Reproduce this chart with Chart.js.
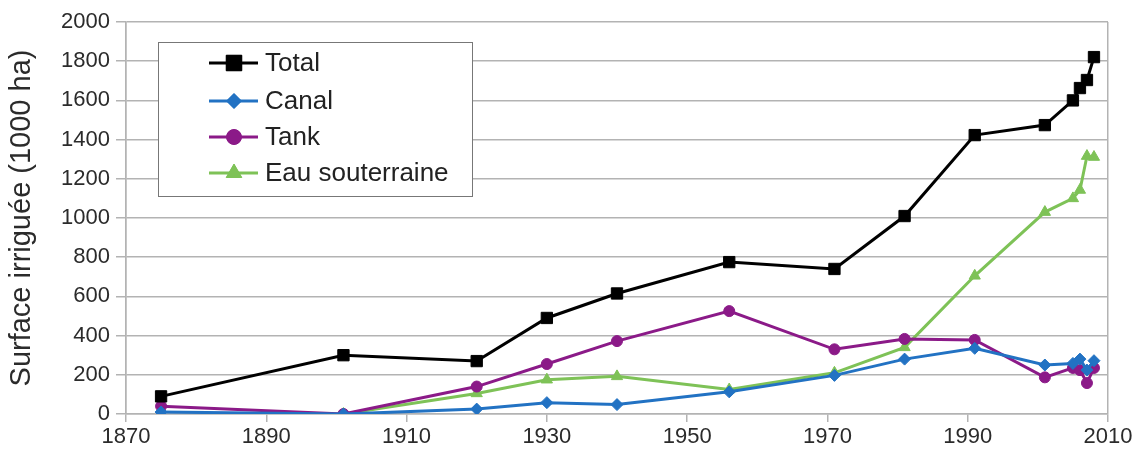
<!DOCTYPE html>
<html>
<head>
<meta charset="utf-8">
<script src="https://cdn.jsdelivr.net/npm/chart.js@4"></script>
<style>
  body { margin: 0; background: #fff; }
  canvas { display: block; }
</style>
</head>
<body>
<canvas id="irrigChart" width="1136" height="454"></canvas>
<script>
// years of each survey
var years = [1875, 1901, 1920, 1930, 1940, 1956, 1971, 1981, 1991, 2001, 2005, 2006, 2007, 2008];

// irrigated area, 1000 ha
var total       = [90, 300, 270, 490, 615, 775, 740, 1010, 1423, 1474, 1600, 1663, 1704, 1821];
var canal       = [10, 0, 25, 58, 48, 113, 197, 280, 335, 250, 258, 280, 224, 272];
var tank        = [40, 0, 140, 255, 372, 525, 330, 383, 378, 187, 235, 224, 158, 235];
var groundwater = [null, 0, 105, 175, 192, 125, 210, 340, 705, 1030, 1100, 1143, 1316, 1311];

var seriesNames = ["Total", "Canal", "Tank", "Eau souterraine"];

function toPoints(values) {
    var pts = [];
    for (var i = 0; i < years.length; i++) {
        if (values[i] !== null) pts.push({ x: years[i], y: values[i] });
    }
    return pts;
}

function makeSet(label, values, color, style, radius, legendRadius) {
    return {
        label: label,
        data: toPoints(values),
        borderColor: color,
        backgroundColor: color,
        borderWidth: 3,
        pointStyle: style,
        pointRadius: radius,
        legendRadius: legendRadius,
        pointBorderWidth: 1,
        pointBorderColor: color,
        pointBackgroundColor: color,
        tension: 0
    };
}

var textColor = "#2b2b2b";
var gridColor = "#b3b3b3";
var fontFamily = "'Liberation Sans', Arial, sans-serif";

// legend drawn inside the plot, top-left
var boxLegend = {
    id: "boxLegend",
    afterDraw: function(chart) {
        var ctx = chart.ctx;
        var left = 158, top = 42, w = 314, h = 154;
        ctx.save();
        ctx.fillStyle = "#ffffff";
        ctx.fillRect(left, top, w, h);
        ctx.strokeStyle = "#777777";
        ctx.lineWidth = 1;
        ctx.strokeRect(left + 0.5, top + 0.5, w, h);
        var rows = [63, 101, 137, 173];
        chart.data.datasets.forEach(function(ds, i) {
            var y = rows[i];
            ctx.strokeStyle = ds.borderColor;
            ctx.lineWidth = 3;
            ctx.beginPath();
            ctx.moveTo(209, y);
            ctx.lineTo(258, y);
            ctx.stroke();
            ctx.fillStyle = ds.borderColor;
            ctx.lineWidth = 1;
            Chart.helpers.drawPoint(ctx, {
                pointStyle: ds.pointStyle,
                radius: ds.legendRadius,
                borderWidth: 1
            }, 234, y);
            ctx.fill();
            ctx.fillStyle = "#222222";
            ctx.font = "26px " + fontFamily;
            ctx.textBaseline = "middle";
            ctx.fillText(ds.label, 265, y + 1);
        });
        ctx.restore();
    }
};

var ctx = document.getElementById("irrigChart").getContext("2d");
var chart = new Chart(ctx, {
    type: "line",
    data: {
        datasets: [
            makeSet(seriesNames[0], total, "#000000", "rect", 8, 11),
            makeSet(seriesNames[1], canal, "#2272c3", "rectRot", 6, 7.5),
            makeSet(seriesNames[2], tank, "#8b1a88", "circle", 5.5, 7.5),
            makeSet(seriesNames[3], groundwater, "#7ec257", "triangle", 6.5, 9)
        ]
    },
    options: {
        responsive: false,
        animation: false,
        layout: { padding: { top: 22, right: 28, left: 0, bottom: 0 } },
        plugins: {
            legend: { display: false },
            tooltip: { enabled: false }
        },
        scales: {
            x: {
                type: "linear",
                min: 1870,
                max: 2010,
                afterFit: function(scale) { scale.height = 40; },
                ticks: {
                    stepSize: 20,
                    color: textColor,
                    padding: 2,
                    maxRotation: 0,
                    font: { size: 22, family: fontFamily },
                    callback: function(v) { return String(v); }
                },
                grid: {
                    color: function(c) {
                        return (c.tick && (c.tick.value === 1870 || c.tick.value === 2010)) ? gridColor : "rgba(0,0,0,0)";
                    },
                    tickColor: gridColor,
                    tickLength: 8,
                    lineWidth: 1.5
                },
                border: { display: true, color: gridColor, width: 1.5 }
            },
            y: {
                min: 0,
                max: 2000,
                afterFit: function(scale) { scale.width = 126; },
                title: {
                    display: true,
                    text: "Surface irriguée (1000 ha)",
                    color: textColor,
                    font: { size: 29, family: fontFamily },
                    padding: { top: 5, bottom: 0 }
                },
                ticks: {
                    stepSize: 200,
                    color: textColor,
                    padding: 6,
                    font: { size: 22, family: fontFamily },
                    callback: function(v) { return String(v); }
                },
                grid: {
                    color: gridColor,
                    tickColor: gridColor,
                    tickLength: 10,
                    lineWidth: 1.5
                },
                border: { display: true, color: gridColor, width: 1.5 }
            }
        }
    },
    plugins: [boxLegend]
});
</script>
</body>
</html>
